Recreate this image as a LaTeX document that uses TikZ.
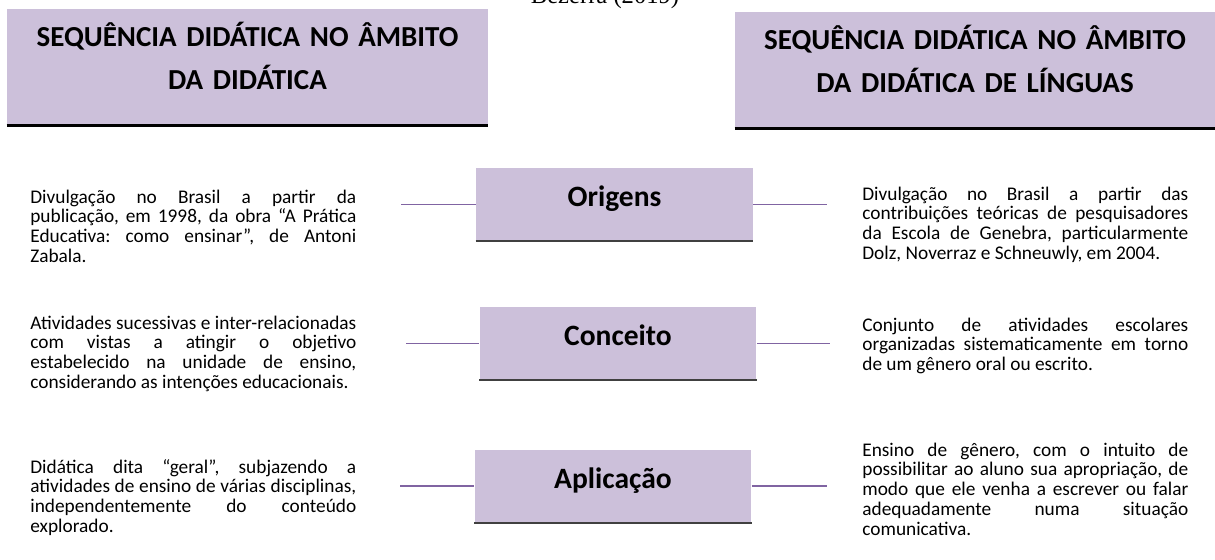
\documentclass[tikz,border=0pt]{standalone}
\usepackage{xcolor}
\usepackage{fontspec}
\setmainfont{Carlito}
\newfontfamily\bodyfont{Carlito}
\newfontfamily\sourcefont{Liberation Serif}
\usepackage{tikz}
\usetikzlibrary{positioning}

\definecolor{lilac}{HTML}{CCC0DA}
\definecolor{linkpurple}{HTML}{8064A2}
\definecolor{rulegray}{HTML}{404040}
\hyphenpenalty=10000
\exhyphenpenalty=10000
\newcommand{\descfont}{\bodyfont\fontsize{11}{11.3}\selectfont\fontdimen4\font=0pt\relax\frenchspacing}

\begin{document}
\begin{tikzpicture}[x=0.02cm, y=-0.02cm,
                    header/.style={fill=lilac, inner sep=0, minimum width=9.62cm, minimum height=2.32cm,
                                   text width=9.62cm, align=center, text height=10pt, text depth=33.2pt,
                                   font=\bfseries\fontsize{16.5}{24.5}\selectfont},
                    topic/.style={fill=lilac, inner sep=0, minimum width=5.54cm, minimum height=1.46cm,
                                  text height=8.4pt, text depth=5.6pt, font=\bfseries\fontsize{16.8}{19}\selectfont},
                    desc/.style={anchor=base west, inner sep=0, text width=6.52cm, align=justify, font=\descfont},
                    link/.style={draw=linkpurple, line width=0.8pt},
                    headrule/.style={line width=1.7pt},
                    toprule/.style={draw=rulegray, line width=1.2pt}]
                    \useasboundingbox (0,0) rectangle (1215,559);
                    % Source
                    \node[font=\sourcefont\fontsize{14}{16}\selectfont, anchor=base, inner sep=0] (fonte) at (605,3) {Bezerra (2019)};
                    % Headers
                    \node[header] (didatica) at (247.5,67) {SEQUÊNCIA DIDÁTICA NO ÂMBITO\\DA DIDÁTICA};
                    \node[header, minimum width=9.6cm, text width=9.6cm] (linguas) at (975,70) {SEQUÊNCIA DIDÁTICA NO ÂMBITO\\DA DIDÁTICA DE LÍNGUAS};
                    \draw[headrule] (didatica.south west) -- (didatica.south east);
                    \draw[headrule] (linguas.south west) -- (linguas.south east);
                    % Topics
                    \node[topic] (origens) at (614.5,204.5) {Origens};
                    \node[topic] (conceito) at (618,343.5) {Conceito};
                    \node[topic] (aplicacao) at (613,486) {Aplicação};
                    \draw[toprule] (origens.south west) -- (origens.south east);
                    \draw[toprule] (conceito.south west) -- (conceito.south east);
                    \draw[toprule] (aplicacao.south west) -- (aplicacao.south east);
                    % Line ends
                    \coordinate (origens-l) at (401,204.5);
                    \coordinate (origens-r) at (827,204.5);
                    \coordinate (conceito-l) at (406,343.5);
                    \coordinate (conceito-r) at (830,343.5);
                    \coordinate (aplicacao-l) at (400,486);
                    \coordinate (aplicacao-r) at (827,486);
                    % Lines
                    \draw[link] (origens-l) -- (origens.west);
                    \draw[link] (origens.east) -- (origens-r);
                    \draw[link] (conceito-l) -- (conceito.west);
                    \draw[link] (conceito.east) -- (conceito-r);
                    \draw[link] (aplicacao-l) -- (aplicacao.west);
                    \draw[link] (aplicacao.east) -- (aplicacao-r);
                    % Left texts
                    \node[desc] (origens-did) at (30,203) {Divulgação no Brasil a partir da publicação, em 1998, da obra “A Prática Educativa: como ensinar”, de Antoni Zabala.};
                    \node[desc] (conceito-did) at (30,329) {Atividades sucessivas e inter-relacionadas com vistas a atingir o objetivo estabelecido na unidade de ensino, considerando as intenções educacionais.};
                    \node[desc] (aplicacao-did) at (30,473) {Didática dita “geral”, subjazendo a atividades de ensino de várias disciplinas, independentemente do conteúdo explorado.};
                    % Right texts
                    \node[desc] (origens-ling) at (862,200) {Divulgação no Brasil a partir das contribuições teóricas de pesquisadores da Escola de Genebra, particularmente Dolz, Noverraz e Schneuwly, em 2004.};
                    \node[desc] (conceito-ling) at (862,331) {Conjunto de atividades escolares organizadas sistematicamente em torno de um gênero oral ou escrito.};
                    \node[desc] (aplicacao-ling) at (862,456) {Ensino de gênero, com o intuito de\linebreak possibilitar ao aluno sua apropriação, de\linebreak modo que ele venha a escrever ou falar\linebreak adequadamente numa situação\linebreak comunicativa.};
                \end{tikzpicture}
\end{document}
